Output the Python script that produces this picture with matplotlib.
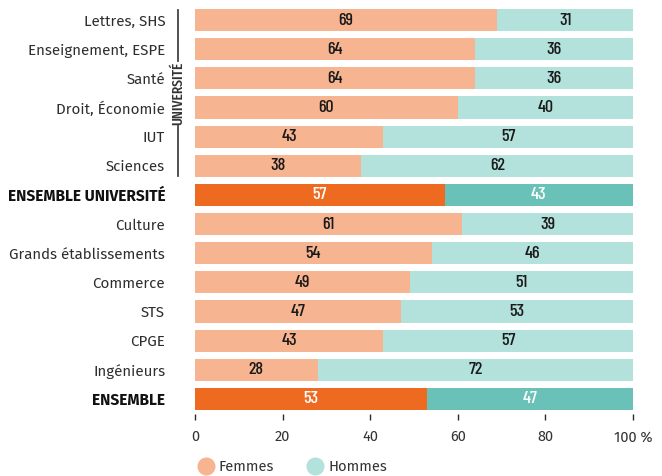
import matplotlib
matplotlib.use("Agg")
import matplotlib.pyplot as plt
from matplotlib.lines import Line2D

categories = ["Lettres, SHS", "Enseignement, ESPE", "Santé", "Droit, Économie", "IUT", "Sciences",
              "ENSEMBLE UNIVERSITÉ", "Culture", "Grands établissements", "Commerce", "STS", "CPGE",
              "Ingénieurs", "ENSEMBLE"]
femmes = [69, 64, 64, 60, 43, 38, 57, 61, 54, 49, 47, 43, 28, 53]
hommes = [31, 36, 36, 40, 57, 62, 43, 39, 46, 51, 53, 57, 72, 47]
totals = {"ENSEMBLE UNIVERSITÉ", "ENSEMBLE"}
ticks = [0, 20, 40, 60, 80, 100]
tick_labels = ["0", "20", "40", "60", "80", "100 %"]

F_LIGHT, H_LIGHT = "#F7B491", "#B3E1DB"
F_DARK, H_DARK = "#EE6A21", "#69C1B7"
TXT = "#2b2b2b"

plt.rcParams["font.family"] = ["Fira Sans", "Open Sans", "DejaVu Sans"]
COND = ["Fira Sans Extra Condensed", "Fira Sans Condensed", "Fira Sans", "DejaVu Sans"]
NUM = ["Barlow Condensed", "Fira Sans Extra Condensed", "DejaVu Sans"]

fig = plt.figure(figsize=(6.62, 4.76), dpi=100)
ax = fig.add_axes([195 / 662, 1 - 413.5 / 476, 438 / 662, 408 / 476])

n = len(categories)
ys = list(range(n))
for i, (c, f, h) in enumerate(zip(categories, femmes, hommes)):
    tot = c in totals
    fc = F_DARK if tot else F_LIGHT
    hc = H_DARK if tot else H_LIGHT
    ax.barh(i, f, height=0.76, color=fc, edgecolor="none")
    ax.barh(i, h, left=f, height=0.76, color=hc, edgecolor="none")
    tc = "white" if tot else "#1a1a1a"
    ax.text(f / 2, i, str(f), ha="center", va="center", color=tc, fontsize=13,
            family=NUM, fontweight="medium")
    ax.text(f + h / 2, i, str(h), ha="center", va="center", color=tc, fontsize=13,
            family=NUM, fontweight="medium")

ax.set_xlim(0, 100)
ax.set_ylim(n - 0.5, -0.5)
ax.set_yticks(ys)
ax.set_yticklabels(categories)
for lab, c in zip(ax.get_yticklabels(), categories):
    lab.set_color("#2e2e2e")
    lab.set_fontsize(10.85)
    lab.set_fontweight("normal")
    if c in totals:
        lab.set_fontweight("bold")
        lab.set_color("#111111")
        lab.set_fontsize(11.1)
ax.tick_params(axis="y", length=0, pad=21.5)
ax.set_xticks(ticks)
ax.set_xticklabels(tick_labels, fontsize=10.5, color="#333333")
ax.tick_params(axis="x", length=4, width=1, color=TXT, pad=8, direction="out")
for s in ax.spines.values():
    s.set_visible(False)

# Université bracket
x_line = (178 - 195) / 438 * 100
ax.plot([x_line, x_line], [-0.35, 1.42], color="#444444", lw=1.3, clip_on=False)
ax.plot([x_line, x_line], [3.62, 5.35], color="#444444", lw=1.3, clip_on=False)
ax.text(x_line, 2.52, "UNIVERSITÉ", rotation=90, ha="center", va="center", fontsize=10.5,
        color="#333333", family=COND, fontweight="medium", clip_on=False)

handles = [Line2D([0], [0], marker="o", color="none", markerfacecolor=F_LIGHT, markeredgecolor="none",
                  markersize=13, label="Femmes"),
           Line2D([0], [0], marker="o", color="none", markerfacecolor=H_LIGHT, markeredgecolor="none",
                  markersize=13, label="Hommes")]
leg = fig.legend(handles=handles, loc="center left", bbox_to_anchor=(184 / 662, 1 - 467 / 476),
                 ncol=2, frameon=False, fontsize=10.5, handletextpad=0.3, columnspacing=2.2,
                 handlelength=1.2)
for t in leg.get_texts():
    t.set_color("#333333")

fig.savefig("out.png", dpi=100)
